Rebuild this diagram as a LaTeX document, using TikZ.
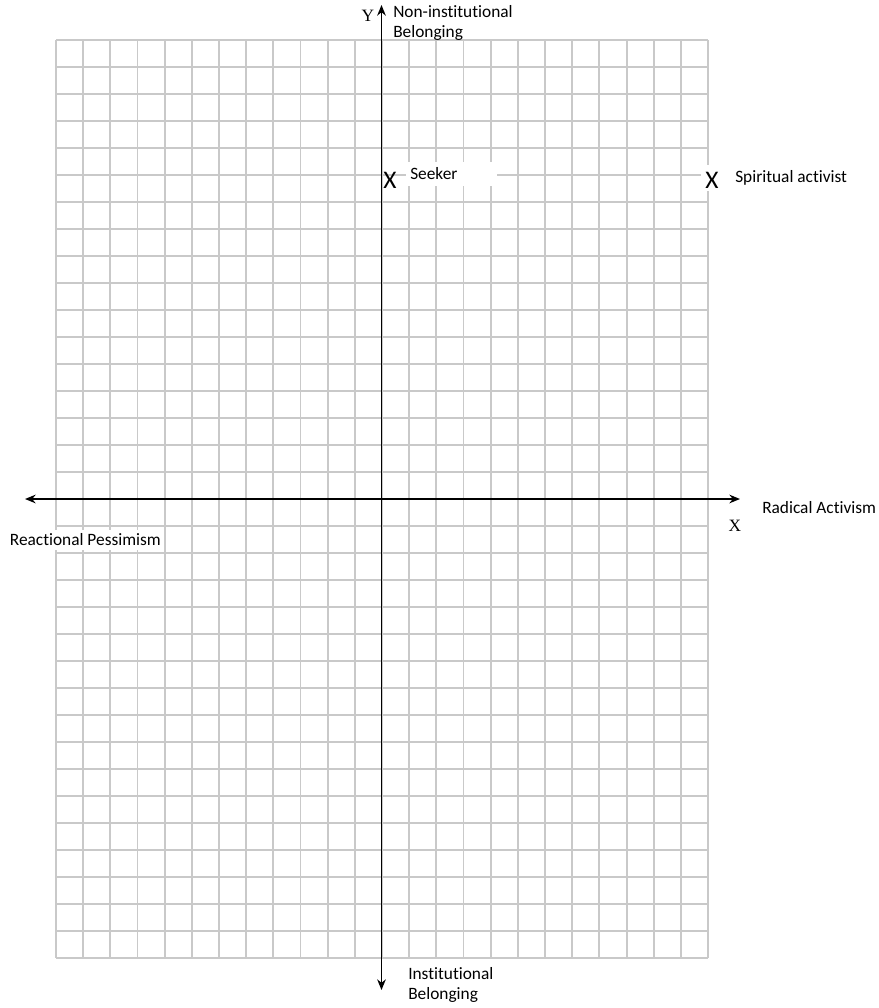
\documentclass[tikz,border=0pt]{standalone}
\usepackage{fontspec}
\setmainfont{Carlito}[Ligatures=NoCommon]
\newfontfamily\axisfont{Liberation Serif}
\usepackage{tikz}
\usetikzlibrary{arrows.meta,positioning}

\begin{document}
\begin{tikzpicture}[x=0.75pt, y=-0.75pt, >={Stealth[length=8pt,width=6.5pt]},
    gridline/.style={draw=gray!42, line width=1.4pt},
    axisline/.style={<->, line width=1.1pt, black},
    lbl/.style={font=\fontsize{13}{15}\selectfont, inner sep=0pt, align=left},
    axislbl/.style={font=\axisfont\fontsize{13}{15}\selectfont, inner sep=0pt},
    xmark/.style={font=\fontsize{19}{20}\selectfont, inner sep=0pt}]
    \useasboundingbox (0,0) rectangle (879,1008);

    \foreach \i in {0,...,24}
        \draw[gridline] ({56+\i*27.17},40) -- ({56+\i*27.17},958);
    \foreach \j in {0,...,34}
        \draw[gridline] (56,{40+\j*27}) -- (708,{40+\j*27});

    \coordinate (ytop) at (381.5,5);
    \coordinate (ybot) at (381.5,990);
    \coordinate (xleft) at (25,499);
    \coordinate (xright) at (740,499);
    \draw[axisline] (ybot) -- (ytop);
    \draw[axisline] (xleft) -- (xright);

    \node[axislbl] (ylab) at (368,16) {Y};
    \node[axislbl] (xlab) at (735,526) {X};

    \node[lbl, anchor=west] (nonins) at (393,23) {Non-institutional\\Belonging};
    \node[lbl, anchor=west] (instit) at (408,985) {Institutional\\Belonging};
    \node[lbl, anchor=west, fill=white, inner xsep=2pt, inner ysep=3pt]
        (reac) at (7,540) {Reactional Pessimism};
    \node[lbl, anchor=west] (radical) at (762,508) {Radical Activism};

    \node[lbl, anchor=west, fill=white, text width=62pt, inner xsep=3pt,
        minimum height=18pt] (seeklab) at (406,174) {Seeker};
    \node[xmark] (seeker) at (390,180) {X};

    \node[xmark, fill=white, minimum width=16pt, minimum height=20pt]
        (spiritbox) at (712,178) {};
    \node[xmark, yshift=-1.5pt] (spirit) at (spiritbox.center) {X};
    \node[lbl, anchor=west] (spiritlab) at (735,178) {Spiritual activist};
\end{tikzpicture}
\end{document}
